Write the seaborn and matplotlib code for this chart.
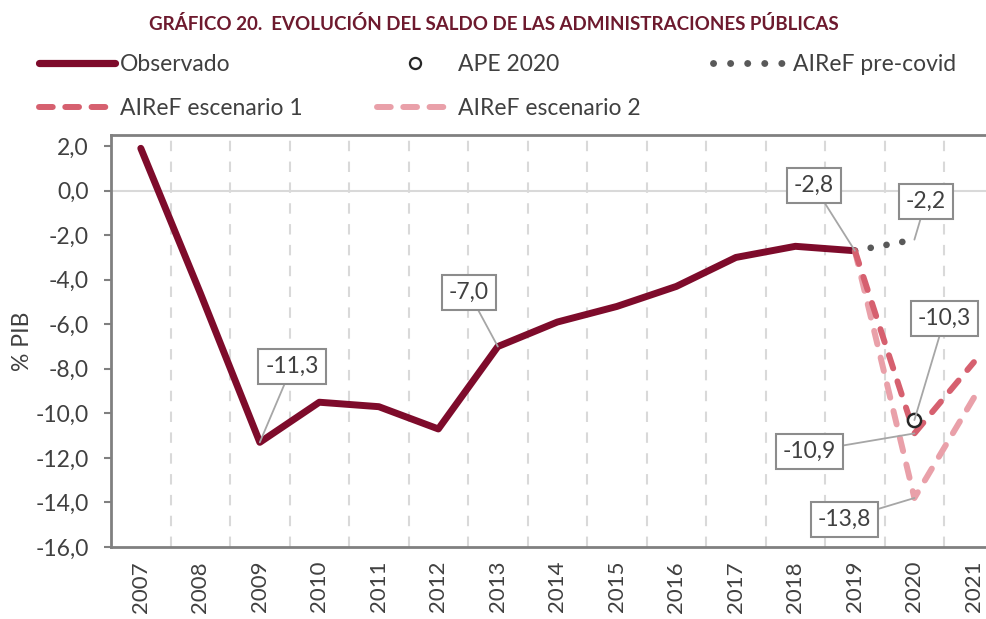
import matplotlib
matplotlib.use("Agg")
import matplotlib.pyplot as plt
import matplotlib.ticker as mticker
from matplotlib.lines import Line2D
import pandas as pd
import seaborn as sns

# data (% PIB)
years = list(range(2007, 2022))
observado = [1.9, -4.6, -11.3, -9.5, -9.7, -10.7, -7.0, -5.9, -5.2, -4.3, -3.0, -2.5, -2.7]
precovid_years = [2019, 2020]
precovid = [-2.7, -2.2]
esc_years = [2019, 2020, 2021]
escenario1 = [-2.7, -10.9, -7.7]
escenario2 = [-2.7, -13.8, -9.3]
ape_year = [2020]
ape = [-10.3]

# annotation texts: (text, point x, point y, box x, box y)
labels = [
    ("-11,3", 2009, -11.3, 2009.54, -7.9),
    ("-7,0", 2013, -7.0, 2012.51, -4.57),
    ("-2,8", 2019, -2.7, 2018.31, 0.22),
    ("-2,2", 2020, -2.2, 2020.19, -0.49),
    ("-10,3", 2020, -10.3, 2020.51, -5.74),
    ("-10,9", 2020, -10.9, 2018.23, -11.7),
    ("-13,8", 2020, -13.8, 2018.82, -14.75),
]

c_obs = "#7E0B2B"
c_esc1 = "#D6606F"
c_esc2 = "#E9A0A9"
c_pre = "#595959"
c_text = "#404040"
c_grid = "#D9D9D9"
fs = 16.5

sns.set_style("white")
plt.rcParams["font.family"] = ["Lato", "DejaVu Sans"]

fig = plt.figure(figsize=(9.87, 6.19), dpi=100)
ax = fig.add_axes([0.1125, 0.1163, 0.8875, 0.6657])

df_obs = pd.DataFrame({"year": years[:len(observado)], "value": observado})
df_pre = pd.DataFrame({"year": precovid_years, "value": precovid})
df_e1 = pd.DataFrame({"year": esc_years, "value": escenario1})
df_e2 = pd.DataFrame({"year": esc_years, "value": escenario2})
df_ape = pd.DataFrame({"year": ape_year, "value": ape})

# grid lines between categories and zero line
for y in years[:-1]:
    ax.axvline(y + 0.5, color=c_grid, lw=1.5, ls=(0, (5, 5)), zorder=0)
ax.axhline(0, color=c_grid, lw=1.5, zorder=0)

dash = (0, (2.3, 2.3))
sns.lineplot(data=df_obs, x="year", y="value", ax=ax, color=c_obs, lw=5,
             solid_capstyle="round", zorder=3)
sns.lineplot(data=df_e2, x="year", y="value", ax=ax, color=c_esc2, lw=4.3,
             linestyle=dash, dash_capstyle="round", zorder=4)
sns.lineplot(data=df_e1, x="year", y="value", ax=ax, color=c_esc1, lw=4.3,
             linestyle=dash, dash_capstyle="round", zorder=5)
sns.lineplot(data=df_pre, x="year", y="value", ax=ax, color=c_pre, lw=4.8,
             linestyle=(0, (0.01, 2.4)), dash_capstyle="round", zorder=4)
sns.scatterplot(data=df_ape, x="year", y="value", ax=ax, marker="o", s=90,
                facecolor="white", edgecolor="#262626", linewidth=1.8, zorder=6)

for txt, px, py, tx, ty in labels:
    ax.annotate(txt, xy=(px, py), xytext=(tx, ty), ha="center", va="center",
                fontsize=fs, color=c_text, zorder=7,
                bbox=dict(boxstyle="square,pad=0.3", fc="white", ec="#8C8C8C", lw=1.5),
                arrowprops=dict(arrowstyle="-", color="#A6A6A6", lw=1.3,
                                shrinkA=0, shrinkB=0))

ax.set_xlim(2006.5, 2021.22)
ax.set_ylim(-16, 2.5)
ax.set_xticks(years)
ax.set_xticklabels([str(y) for y in years], rotation=90)
ax.set_yticks(range(-16, 3, 2))
ax.yaxis.set_major_formatter(mticker.FuncFormatter(lambda v, p: f"{v:.1f}".replace(".", ",")))
ax.tick_params(axis="both", labelsize=fs, colors=c_text)
ax.tick_params(axis="y", length=5, width=1.5, color="#808080", direction="out",
               left=True, pad=11)
ax.tick_params(axis="x", length=0, pad=10, labelsize=16)
ax.set_xlabel("")
ax.set_ylabel("% PIB", fontsize=fs, color=c_text)
ax.yaxis.set_label_coords(-0.089, 0.5)

for side in ["left", "bottom", "top"]:
    ax.spines[side].set_color("#808080")
    ax.spines[side].set_linewidth(2)
ax.spines["right"].set_visible(False)

# legend, one block per column
leg_dash = (0, (2.3, 2.1))
h_obs = Line2D([], [], color=c_obs, lw=5.2, solid_capstyle="round")
h_e1 = Line2D([], [], color=c_esc1, lw=4.3, ls=leg_dash, dash_capstyle="round")
h_e2 = Line2D([], [], color=c_esc2, lw=4.3, ls=leg_dash, dash_capstyle="round")
h_ape = Line2D([], [], color="#262626", marker="o", ls="none", ms=8, mfc="white", mew=1.6)
h_pre = Line2D([], [], color=c_pre, lw=5, ls=(0, (0.01, 2.45)), dash_capstyle="round")

columns = [
    ([h_obs, h_e1], ["Observado", "AIReF escenario 1"], 0.040),
    ([h_ape, h_e2], ["APE 2020", "AIReF escenario 2"], 0.382),
    ([h_pre], ["AIReF pre-covid"], 0.722),
]
for hs, ls, x0 in columns:
    leg = fig.legend(hs, ls, loc="upper left", bbox_to_anchor=(x0, 0.913),
                     frameon=False, fontsize=fs, handlelength=3.3, handletextpad=0.22,
                     labelspacing=1.0, labelcolor=c_text, borderaxespad=0, borderpad=0)

fig.text(0.5, 0.961, "GRÁFICO 20.  EVOLUCIÓN DEL SALDO DE LAS ADMINISTRACIONES PÚBLICAS",
         ha="center", va="center", fontsize=13.5, fontweight="bold", color="#6D1A2E")

fig.savefig("out.png", dpi=100)
